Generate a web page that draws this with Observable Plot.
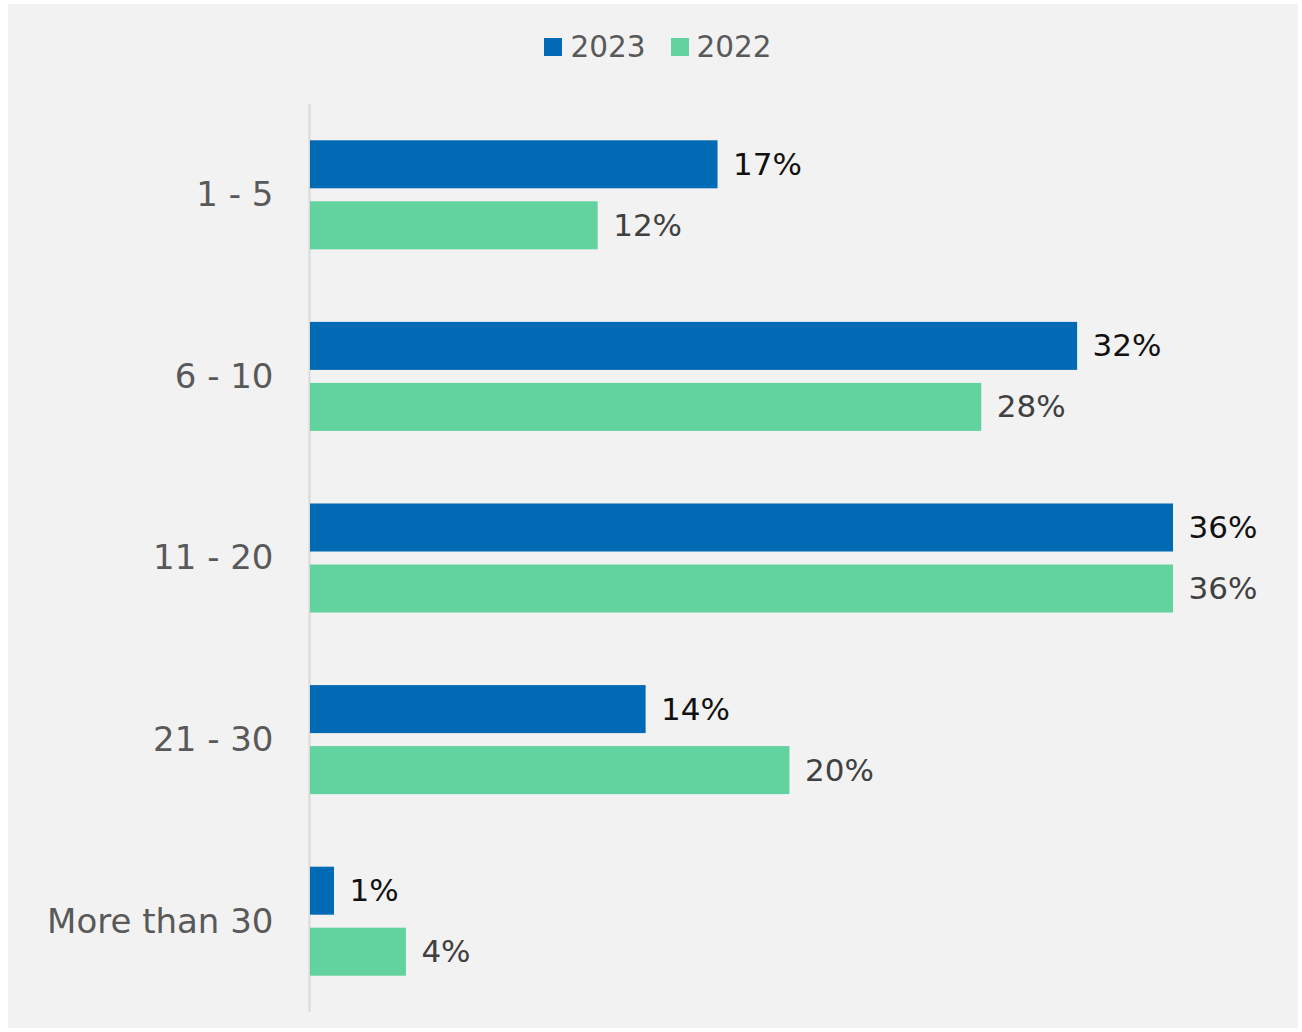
<!DOCTYPE html>
<html>
<head>
<meta charset="utf-8">
<script src="https://cdn.jsdelivr.net/npm/d3@7"></script>
<script src="https://cdn.jsdelivr.net/npm/@observablehq/plot@0.6"></script>
<style>
  html, body { margin: 0; padding: 0; background: #ffffff; }
  body { width: 1302px; height: 1032px; position: relative; overflow: hidden; font-family: "DejaVu Sans", sans-serif; }
  #panel { position: absolute; left: 8px; top: 4px; width: 1290px; height: 1024px; background: #f2f2f2; }
  #legend { height: 90px; display: flex; justify-content: center; align-items: flex-start; padding-top: 26px; padding-left: 10px; box-sizing: border-box; gap: 25px; font-size: 29.5px; color: #595959; }
  #legend .item { display: flex; align-items: center; gap: 8px; line-height: 34px; }
  #legend .sw { width: 18px; height: 18px; display: inline-block; }
</style>
</head>
<body>
<div id="panel">
  <div id="legend"></div>
  <div id="chart"></div>
</div>
<script>
const categories = ["1 - 5", "6 - 10", "11 - 20", "21 - 30", "More than 30"];
const series = ["2023", "2022"];
const values2023 = [17, 32, 36, 14, 1];
const values2022 = [12, 28, 36, 20, 4];
const colors = {"2023": "#006ab4", "2022": "#62d29e"};
const labelColors = {"2023": "#111111", "2022": "#404040"};

const data = [];
categories.forEach((c, i) => {
  data.push({category: c, year: "2023", value: values2023[i]});
  data.push({category: c, year: "2022", value: values2022[i]});
});

const legend = document.getElementById("legend");
series.forEach(s => {
  const it = document.createElement("div");
  it.className = "item";
  const sw = document.createElement("span");
  sw.className = "sw";
  sw.style.background = colors[s];
  const tx = document.createElement("span");
  tx.textContent = s;
  it.appendChild(sw); it.appendChild(tx);
  legend.appendChild(it);
});

const chart = Plot.plot({
  width: 1290,
  height: 934,
  marginLeft: 302,
  marginRight: 125,
  marginTop: 10,
  marginBottom: 16,
  style: {background: "transparent", fontFamily: "DejaVu Sans, sans-serif", fontSize: "34px", color: "#595959", overflow: "visible"},
  x: {domain: [0, 36], axis: null},
  fy: {domain: categories, padding: 0, round: false, label: null, axis: null},
  y: {domain: series, paddingInner: 0.213, paddingOuter: 0.595, round: false, axis: null},
  color: {domain: series, range: series.map(s => colors[s])},
  marks: [
    Plot.axisFy({anchor: "left", tickSize: 0, tickPadding: 37, label: null, fontSize: 34, fill: "#595959"}),
    Plot.ruleX([0], {stroke: "#d9d9d9", strokeWidth: 2, dx: -1}),
    Plot.barX(data, {fy: "category", y: "year", x: "value", fill: d => colors[d.year]}),
    Plot.text(data, {fy: "category", y: "year", x: "value", text: d => d.value + "%", textAnchor: "start", dx: 15, fill: d => labelColors[d.year], fontSize: 31})
  ]
});
document.getElementById("chart").appendChild(chart);
</script>
</body>
</html>
